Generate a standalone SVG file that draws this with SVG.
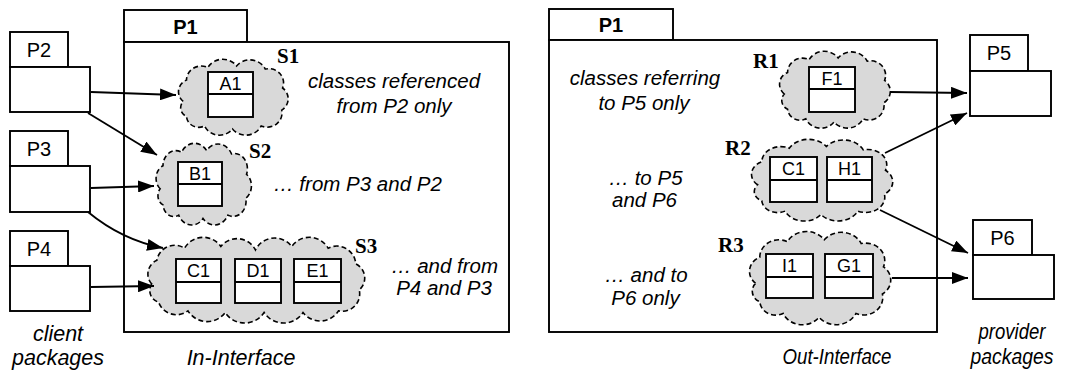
<svg xmlns="http://www.w3.org/2000/svg" xmlns:xlink="http://www.w3.org/1999/xlink" width="1069" height="374" viewBox="0 0 1069 374">
<style>
.pk{fill:#fff;stroke:#000;stroke-width:1.9}
.cls{fill:#fff;stroke:#000;stroke-width:1.9}
.t{font-family:"Liberation Sans",Arial,sans-serif;fill:#000}
.pl{font-size:20px;text-anchor:middle}
.pb{font-size:20px;font-weight:bold;text-anchor:middle}
.cl{font-size:18px;text-anchor:middle}
.it{font-style:italic;font-size:20.5px;text-anchor:middle}
.big{font-size:21.5px}
.sl{font-family:"Liberation Serif","Times New Roman",serif;font-weight:bold;font-size:21px;fill:#000}
.con{fill:none;stroke:#000;stroke-width:1.8}
</style>
<defs>
<marker id="ah" markerUnits="userSpaceOnUse" markerWidth="16" markerHeight="12" refX="16" refY="6" orient="auto">
<path d="M0,0 L16,6 L0,12 z" fill="#000"/>
</marker>
<path id="cloudA" fill="#d9d9d9" stroke="#000" stroke-width="1.6" stroke-dasharray="5 3" vector-effect="non-scaling-stroke" d="M10,55 A16,16 0 0 1 14,28 A18,18 0 0 1 40,12 A21,21 0 0 1 75,10 A21,21 0 0 1 110,14 A18,18 0 0 1 131,38 A17,17 0 0 1 130,66 A18,18 0 0 1 105,86 A21,21 0 0 1 70,90 A20,20 0 0 1 36,86 A15,15 0 0 1 14,74 A12,12 0 0 1 10,55 Z"/>
<path id="cloudB" fill="#d9d9d9" stroke="#000" stroke-width="1.6" stroke-dasharray="5 3" vector-effect="non-scaling-stroke" d="M10,55 A17,17 0 0 1 16,28 A21,21 0 0 1 48,14 A25,25 0 0 1 90,12 A24,24 0 0 1 130,16 A25,25 0 0 1 172,12 A25,25 0 0 1 214,14 A22,22 0 0 1 246,32 A18,18 0 0 1 250,62 A20,20 0 0 1 226,86 A25,25 0 0 1 185,88 A27,27 0 0 1 140,88 A27,27 0 0 1 95,88 A26,26 0 0 1 52,86 A22,22 0 0 1 18,76 A14,14 0 0 1 10,55 Z"/>
</defs>

<!-- Left P1 package -->
<g id="P1-in">
<rect class="pk" x="124" y="10" width="123" height="32"/>
<rect class="pk" x="124" y="42" width="385" height="290"/>
<text class="t pb" x="185.5" y="34">P1</text>
</g>

<!-- Right P1 package -->
<g id="P1-out">
<rect class="pk" x="549" y="9" width="124" height="31"/>
<rect class="pk" x="549" y="40" width="388" height="292"/>
<text class="t pb" x="611" y="32">P1</text>
</g>

<g id="P2">
<rect class="pk" x="10" y="32" width="58" height="35"/>
<rect class="pk" x="10" y="67" width="80" height="45"/>
<text class="t pl" x="39" y="57">P2</text>
</g>
<g id="P3">
<rect class="pk" x="10" y="131" width="58" height="35"/>
<rect class="pk" x="10" y="166" width="80" height="46"/>
<text class="t pl" x="39" y="156">P3</text>
</g>
<g id="P4">
<rect class="pk" x="10" y="231" width="58" height="35"/>
<rect class="pk" x="10" y="266" width="80" height="45"/>
<text class="t pl" x="39" y="256">P4</text>
</g>
<g id="P5">
<rect class="pk" x="970" y="35" width="58" height="36"/>
<rect class="pk" x="970" y="71" width="81" height="45"/>
<text class="t pl" x="999" y="60">P5</text>
</g>
<g id="P6">
<rect class="pk" x="973" y="220" width="59" height="35"/>
<rect class="pk" x="973" y="255" width="81" height="44"/>
<text class="t pl" x="1002.5" y="245">P6</text>
</g>

<!-- Clouds -->
<g id="S1">
<use xlink:href="#cloudA" href="#cloudA" transform="translate(175,58) scale(0.821,0.79)"/>
<rect class="cls" x="208" y="72" width="45" height="45"/>
<line class="cls" x1="208" y1="94" x2="253" y2="94"/>
<text class="t cl" x="230.5" y="90">A1</text>
<text class="sl" x="277" y="63">S1</text>
</g>
<g id="S2">
<use xlink:href="#cloudA" href="#cloudA" transform="translate(153,142) scale(0.714,0.85)"/>
<rect class="cls" x="178" y="162" width="44" height="44"/>
<line class="cls" x1="178" y1="184" x2="222" y2="184"/>
<text class="t cl" x="200" y="180">B1</text>
<text class="sl" x="249" y="158">S2</text>
</g>
<g id="S3">
<use xlink:href="#cloudB" href="#cloudB" transform="translate(143,236) scale(0.865,0.87)"/>
<rect class="cls" x="176" y="259" width="45" height="44"/>
<line class="cls" x1="176" y1="282" x2="221" y2="282"/>
<text class="t cl" x="198.5" y="277">C1</text>
<rect class="cls" x="235" y="259" width="46" height="44"/>
<line class="cls" x1="235" y1="282" x2="281" y2="282"/>
<text class="t cl" x="258" y="277">D1</text>
<rect class="cls" x="294" y="259" width="47" height="44"/>
<line class="cls" x1="294" y1="282" x2="341" y2="282"/>
<text class="t cl" x="317.5" y="277">E1</text>
<text class="sl" x="355" y="253">S3</text>
</g>
<g id="R1">
<use xlink:href="#cloudA" href="#cloudA" transform="translate(776,50) scale(0.829,0.8)"/>
<rect class="cls" x="809" y="67" width="46" height="45"/>
<line class="cls" x1="809" y1="89" x2="855" y2="89"/>
<text class="t cl" x="832" y="85">F1</text>
<text class="sl" x="753" y="68">R1</text>
</g>
<g id="R2">
<use xlink:href="#cloudA" href="#cloudA" transform="translate(747,138) scale(1.057,0.85)"/>
<rect class="cls" x="770" y="157" width="47" height="45"/>
<line class="cls" x1="770" y1="180" x2="817" y2="180"/>
<text class="t cl" x="793.5" y="175">C1</text>
<rect class="cls" x="827" y="157" width="45" height="45"/>
<line class="cls" x1="827" y1="180" x2="872" y2="180"/>
<text class="t cl" x="849.5" y="175">H1</text>
<text class="sl" x="725" y="155">R2</text>
</g>
<g id="R3">
<use xlink:href="#cloudA" href="#cloudA" transform="translate(745,230) scale(1.057,0.97)"/>
<rect class="cls" x="766" y="254" width="47" height="44"/>
<line class="cls" x1="766" y1="277" x2="813" y2="277"/>
<text class="t cl" x="789.5" y="272">I1</text>
<rect class="cls" x="825" y="254" width="48" height="44"/>
<line class="cls" x1="825" y1="277" x2="873" y2="277"/>
<text class="t cl" x="849" y="272">G1</text>
<text class="sl" x="718" y="252">R3</text>
</g>

<!-- Descriptive texts -->
<g id="notes">
<text class="t it" x="394" y="88">classes referenced</text>
<text class="t it" x="394" y="113">from P2 only</text>
<text class="t it" x="357.5" y="191">… from P3 and P2</text>
<text class="t it" x="444.5" y="273">… and from</text>
<text class="t it" x="444" y="295">P4 and P3</text>
<text class="t it" x="645" y="85">classes referring</text>
<text class="t it" x="644" y="110">to P5 only</text>
<text class="t it" x="645.5" y="185">… to P5</text>
<text class="t it" x="644.5" y="207">and P6</text>
<text class="t it" x="646" y="282">… and to</text>
<text class="t it" x="645.5" y="305">P6 only</text>
<text class="t it big" x="58" y="341">client</text>
<text class="t it big" x="58" y="365">packages</text>
<text class="t it big" x="241" y="365">In-Interface</text>
<text class="t it big" x="837" y="364" textLength="109" lengthAdjust="spacingAndGlyphs">Out-Interface</text>
<text class="t it big" x="1012" y="339" textLength="67" lengthAdjust="spacingAndGlyphs">provider</text>
<text class="t it big" x="1012" y="364" textLength="83" lengthAdjust="spacingAndGlyphs">packages</text>
</g>

<!-- Connectors -->
<g id="connectors">
<path class="con" marker-end="url(#ah)" d="M91,92 L176,95"/>
<path class="con" marker-end="url(#ah)" d="M88,113 L157,155"/>
<path class="con" marker-end="url(#ah)" d="M91,188 L154,186"/>
<path class="con" marker-end="url(#ah)" d="M88,212 Q122,240 163,248"/>
<path class="con" marker-end="url(#ah)" d="M91,287 L154,286"/>
<path class="con" marker-end="url(#ah)" d="M890,92 L967,93"/>
<path class="con" marker-end="url(#ah)" d="M885,153 L967,113"/>
<path class="con" marker-end="url(#ah)" d="M880,210 L968,253"/>
<path class="con" marker-end="url(#ah)" d="M892,278 L968,278"/>
</g>
</svg>
